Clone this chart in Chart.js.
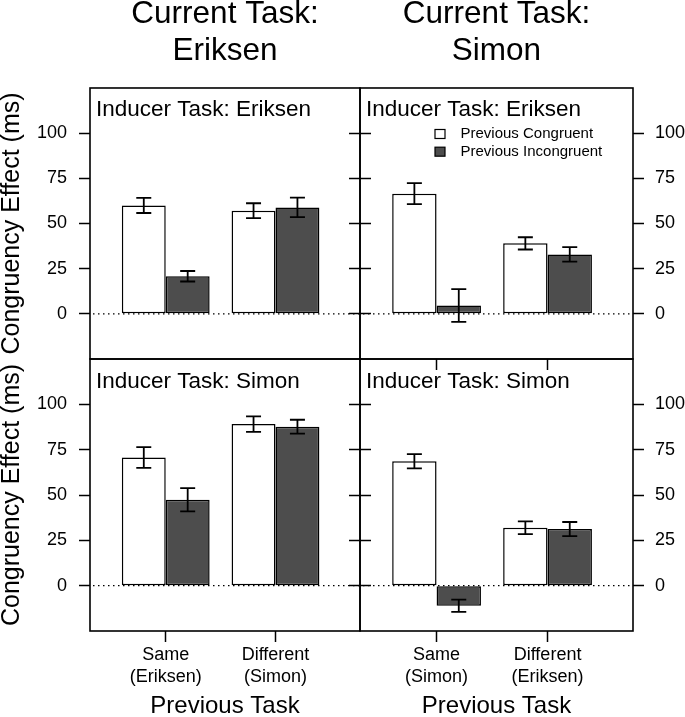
<!DOCTYPE html>
<html><head><meta charset="utf-8">
<script src="https://cdn.jsdelivr.net/npm/chart.js@4/dist/chart.umd.min.js"></script>
<style>
html,body{margin:0;padding:0;background:#fff;}
#wrap{position:relative;width:685px;height:717px;overflow:hidden;}
canvas{position:absolute;left:0;top:0;}
</style></head><body>
<div id="wrap">
<canvas id="pTL" width="685" height="717"></canvas>
<canvas id="pTR" width="685" height="717"></canvas>
<canvas id="pBL" width="685" height="717"></canvas>
<canvas id="pBR" width="685" height="717"></canvas>
</div>
<script>
// ---------- data ----------
const groupPositions = [1, 2];               // the two "Previous Task" groups
const seriesNames = ['Previous Congruent', 'Previous Incongruent'];
const yTickValues = [0, 25, 50, 75, 100];
const columnTitles = [['Current Task:', 'Eriksen'], ['Current Task:', 'Simon']];
const inducerLabels = ['Inducer Task: Eriksen', 'Inducer Task: Simon'];
const xTickLabelsCurEriksen = [['Same', '(Eriksen)'], ['Different', '(Simon)']];
const xTickLabelsCurSimon = [['Same', '(Simon)'], ['Different', '(Eriksen)']];
const xAxisTitle = 'Previous Task';
const yAxisTitle = 'Congruency Effect (ms)';

// Current Eriksen, Inducer Eriksen
const curEriInducEriCong = [60.0, 57.1];
const curEriInducEriCongErr = [4.2, 4.1];
const curEriInducEriIncong = [20.8, 58.9];
const curEriInducEriIncongErr = [2.9, 5.4];
// Current Simon, Inducer Eriksen
const curSimInducEriCong = [66.5, 39.0];
const curSimInducEriCongErr = [5.8, 3.4];
const curSimInducEriIncong = [4.6, 32.9];
const curSimInducEriIncongErr = [9.1, 4.0];
// Current Eriksen, Inducer Simon
const curEriInducSimCong = [70.7, 89.1];
const curEriInducSimCongErr = [5.7, 4.3];
const curEriInducSimIncong = [47.4, 87.7];
const curEriInducSimIncongErr = [6.4, 3.8];
// Current Simon, Inducer Simon
const curSimInducSimCong = [68.6, 31.9];
const curSimInducSimCongErr = [3.9, 3.5];
const curSimInducSimIncong = [-11.1, 31.2];
const curSimInducSimIncongErr = [3.4, 3.9];

// ---------- styling ----------
const FONT = "'Liberation Sans', Arial, Helvetica, sans-serif";
const W = 685, H = 717;
const FILL_CONG = '#ffffff';
const FILL_INCONG = '#4d4d4d';
Chart.defaults.font.family = FONT;
Chart.defaults.color = '#000';

const panelDeco = {
  id: 'panelDeco',
  beforeDatasetsDraw(chart) {
    const {ctx, chartArea: a} = chart;
    const y0 = chart.scales.y.getPixelForValue(0);
    ctx.save();
    ctx.strokeStyle = '#000';
    ctx.lineWidth = 1.2;
    ctx.setLineDash([1.5, 3.5]);
    ctx.beginPath();
    ctx.moveTo(a.left + 3, y0);
    ctx.lineTo(a.right, y0);
    ctx.stroke();
    ctx.restore();
  },
  afterDatasetsDraw(chart, args, opts) {
    const {ctx, chartArea: a} = chart;
    const ys = chart.scales.y;
    ctx.save();
    // error bars
    ctx.strokeStyle = '#000';
    ctx.lineWidth = 1.8;
    chart.data.datasets.forEach((ds, di) => {
      const meta = chart.getDatasetMeta(di);
      meta.data.forEach((bar, i) => {
        const v = ds.data[i].y, e = ds.errors[i];
        const yt = ys.getPixelForValue(v + e), yb = ys.getPixelForValue(v - e);
        const cw = 7.5;
        ctx.beginPath();
        ctx.moveTo(bar.x, yt); ctx.lineTo(bar.x, yb);
        ctx.moveTo(bar.x - cw, yt); ctx.lineTo(bar.x + cw, yt);
        ctx.moveTo(bar.x - cw, yb); ctx.lineTo(bar.x + cw, yb);
        ctx.stroke();
      });
    });
    // panel box
    ctx.lineWidth = 1.6;
    ctx.strokeRect(a.left, a.top, a.right - a.left, a.bottom - a.top);
    // inducer label
    ctx.fillStyle = '#000';
    ctx.font = '22.5px ' + FONT;
    ctx.textBaseline = 'alphabetic';
    ctx.textAlign = 'left';
    ctx.fillText(opts.inducer, a.left + 6, a.top + 28.5);
    // legend
    if (opts.legend) {
      ctx.font = '15px ' + FONT;
      ctx.textBaseline = 'middle';
      chart.data.datasets.forEach((ds, i) => {
        const cy = a.top + 46 + i * 17.7;
        const sx = a.left + 75;
        ctx.fillStyle = ds.backgroundColor;
        ctx.fillRect(sx, cy - 4.5, 10, 9);
        ctx.lineWidth = 1.2;
        ctx.strokeStyle = '#000';
        ctx.strokeRect(sx, cy - 4.5, 10, 9);
        ctx.fillStyle = '#000';
        ctx.fillText(ds.label, a.left + 100.5, cy);
      });
    }
    ctx.restore();
  }
};

function makePanel(id, p) {
  const ds = (label, vals, errs, color) => ({
    label,
    data: groupPositions.map((x, i) => ({x, y: vals[i]})),
    errors: errs,
    backgroundColor: color,
    borderColor: '#000',
    borderWidth: 1.5,
    borderSkipped: false,
    categoryPercentage: 0.8,
    barPercentage: 1.0
  });
  const tickGrid = (show) => ({
    display: true, drawOnChartArea: false, offset: false,
    drawTicks: show, tickLength: 11, tickColor: '#000', tickWidth: 1.5, color: '#000'
  });
  return new Chart(document.getElementById(id), {
    type: 'bar',
    data: {datasets: [
      ds(seriesNames[0], p.cong, p.congErr, FILL_CONG),
      ds(seriesNames[1], p.incong, p.incongErr, FILL_INCONG)
    ]},
    plugins: [panelDeco],
    options: {
      responsive: false, maintainAspectRatio: false, animation: false,
      events: [],
      layout: {padding: {top: p.padTop, left: 0, right: 0, bottom: 0}},
      plugins: {
        legend: {display: false},
        tooltip: {enabled: false},
        title: p.title ? {
          display: true, text: p.title, fullSize: false, color: '#000',
          font: {family: FONT, size: 31.5, weight: 'normal', lineHeight: 1.184},
          padding: {top: -4.8, bottom: 18.2}
        } : {display: false},
        panelDeco: {inducer: p.inducer, legend: p.legend}
      },
      scales: {
        x: {
          type: 'linear', position: 'bottom', min: 0.31, max: 2.77, offset: false,
          afterBuildTicks: s => { s.ticks = groupPositions.map(v => ({value: v})); },
          afterFit: s => { s.height = H - p.bottom; },
          grid: tickGrid(p.xTicks),
          border: {display: false},
          ticks: {
            display: !!p.xLabels, autoSkip: false, maxRotation: 0, minRotation: 0,
            padding: 2, color: '#000',
            font: {family: FONT, size: 18, lineHeight: 1.24},
            callback: (v, i) => p.xLabels ? p.xLabels[i] : ''
          },
          title: {
            display: !!p.xLabels, text: xAxisTitle, color: '#000',
            font: {family: FONT, size: 24, lineHeight: 0.86}, padding: 0
          }
        },
        y: {
          type: 'linear', position: 'left', min: -25, max: 125,
          afterBuildTicks: s => { s.ticks = yTickValues.map(v => ({value: v})); },
          afterFit: s => { s.width = p.left; },
          grid: tickGrid(true),
          border: {display: false},
          ticks: {display: p.leftLabels, padding: 12, color: '#000', font: {family: FONT, size: 18}},
          title: {
            display: p.leftLabels, text: yAxisTitle, color: '#000',
            font: {family: FONT, size: 25, lineHeight: 0.95}, padding: 0
          }
        },
        yr: {
          type: 'linear', position: 'right', axis: 'y', min: -25, max: 125,
          afterBuildTicks: s => { s.ticks = yTickValues.map(v => ({value: v})); },
          afterFit: s => { s.width = W - p.right; },
          grid: tickGrid(true),
          border: {display: false},
          ticks: {display: p.rightLabels, padding: 11, color: '#000', font: {family: FONT, size: 18}}
        }
      }
    }
  });
}

makePanel('pTL', {
  cong: curEriInducEriCong, congErr: curEriInducEriCongErr,
  incong: curEriInducEriIncong, incongErr: curEriInducEriIncongErr,
  left: 90, right: 360, padTop: 0, bottom: 359,
  title: columnTitles[0], inducer: inducerLabels[0], legend: false,
  leftLabels: true, rightLabels: false, xTicks: false, xLabels: null
});
makePanel('pTR', {
  cong: curSimInducEriCong, congErr: curSimInducEriCongErr,
  incong: curSimInducEriIncong, incongErr: curSimInducEriIncongErr,
  left: 360, right: 633, padTop: 0, bottom: 359,
  title: columnTitles[1], inducer: inducerLabels[0], legend: true,
  leftLabels: false, rightLabels: true, xTicks: true, xLabels: null
});
makePanel('pBL', {
  cong: curEriInducSimCong, congErr: curEriInducSimCongErr,
  incong: curEriInducSimIncong, incongErr: curEriInducSimIncongErr,
  left: 90, right: 360, padTop: 359, bottom: 631,
  title: null, inducer: inducerLabels[1], legend: false,
  leftLabels: true, rightLabels: false, xTicks: true, xLabels: xTickLabelsCurEriksen
});
makePanel('pBR', {
  cong: curSimInducSimCong, congErr: curSimInducSimCongErr,
  incong: curSimInducSimIncong, incongErr: curSimInducSimIncongErr,
  left: 360, right: 633, padTop: 359, bottom: 631,
  title: null, inducer: inducerLabels[1], legend: false,
  leftLabels: false, rightLabels: true, xTicks: true, xLabels: xTickLabelsCurSimon
});
</script>
</body></html>
